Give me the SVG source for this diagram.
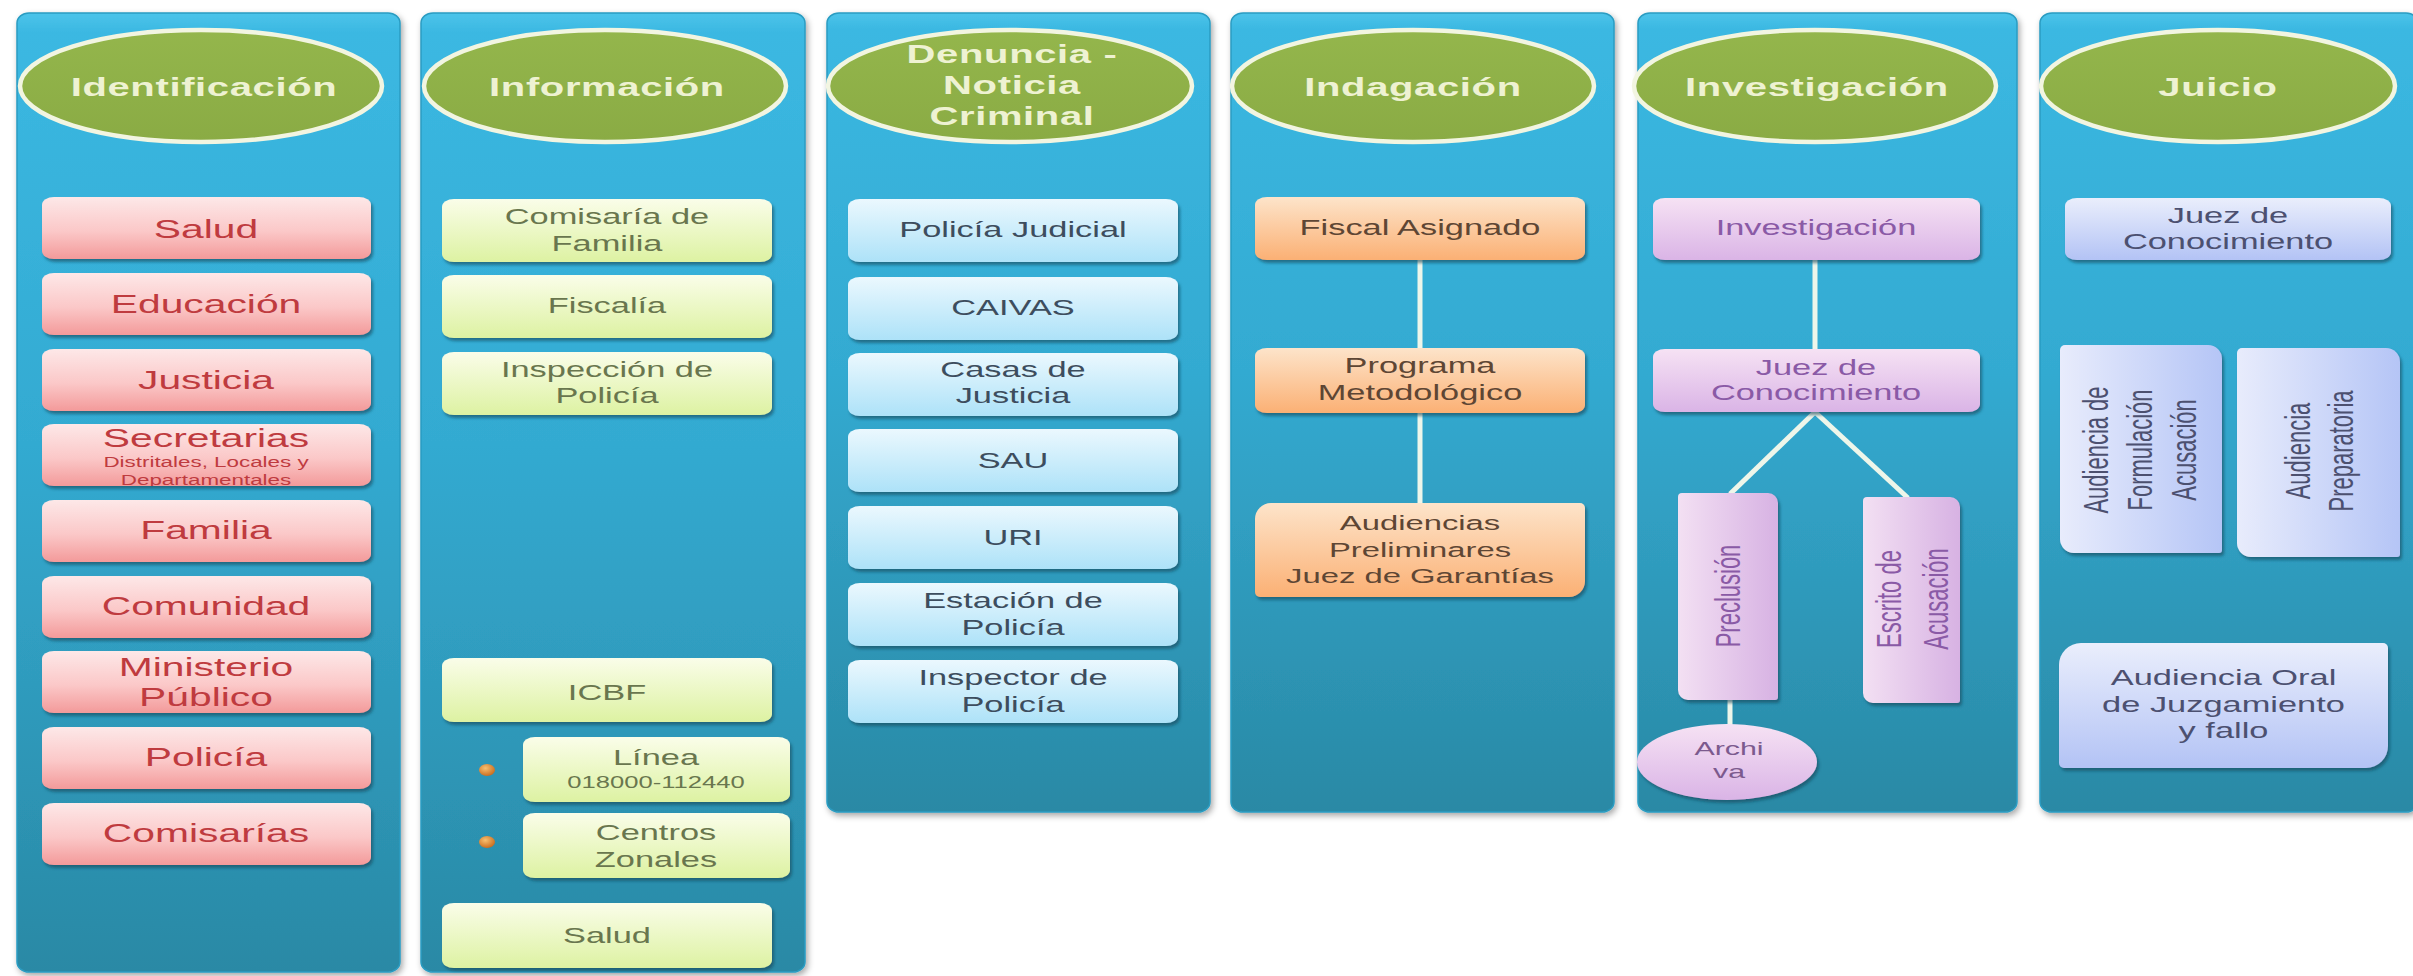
<svg xmlns="http://www.w3.org/2000/svg" width="2413" height="976" viewBox="0 0 2413 976">
<defs>
<linearGradient id="gCol" x1="0" y1="0" x2="0" y2="1">
<stop offset="0" stop-color="#4cc4ea"/><stop offset="0.02" stop-color="#3bb8e2"/><stop offset="0.45" stop-color="#33aad1"/><stop offset="1" stop-color="#2a89a5"/>
</linearGradient>
<linearGradient id="gHdr" x1="0" y1="0" x2="0" y2="1">
<stop offset="0" stop-color="#94b64c"/><stop offset="1" stop-color="#8aab44"/>
</linearGradient>
<linearGradient id="gPink" x1="0" y1="0" x2="0" y2="1">
<stop offset="0" stop-color="#fde8e8"/><stop offset="0.55" stop-color="#fbc8c8"/><stop offset="1" stop-color="#f39a9a"/>
</linearGradient>
<linearGradient id="gGreen" x1="0" y1="0" x2="0" y2="1">
<stop offset="0" stop-color="#fafde9"/><stop offset="1" stop-color="#ddf2a2"/>
</linearGradient>
<linearGradient id="gBlue" x1="0" y1="0" x2="0" y2="1">
<stop offset="0" stop-color="#ebf8fe"/><stop offset="1" stop-color="#ade2f8"/>
</linearGradient>
<linearGradient id="gOrange" x1="0" y1="0" x2="0" y2="1">
<stop offset="0" stop-color="#fde4ca"/><stop offset="1" stop-color="#fbb074"/>
</linearGradient>
<linearGradient id="gPurple" x1="0" y1="0" x2="0" y2="1">
<stop offset="0" stop-color="#f6e2f4"/><stop offset="1" stop-color="#dab4e6"/>
</linearGradient>
<linearGradient id="gPurpleH" x1="0" y1="0" x2="1" y2="0">
<stop offset="0" stop-color="#f3e0f3"/><stop offset="1" stop-color="#d7b2e3"/>
</linearGradient>
<linearGradient id="gLav" x1="0" y1="0" x2="0" y2="1">
<stop offset="0" stop-color="#eaeefc"/><stop offset="1" stop-color="#b3c3f5"/>
</linearGradient>
<linearGradient id="gLavH" x1="0" y1="0" x2="1" y2="0">
<stop offset="0" stop-color="#e8ecfc"/><stop offset="1" stop-color="#b5c5f6"/>
</linearGradient>
<radialGradient id="gDot" cx="0.4" cy="0.35" r="0.7">
<stop offset="0" stop-color="#f7c070"/><stop offset="1" stop-color="#c8681a"/>
</radialGradient>
<filter id="shCol" x="-5%" y="-5%" width="112%" height="110%">
<feDropShadow dx="2" dy="3" stdDeviation="3" flood-color="#000" flood-opacity="0.35"/>
</filter>
<filter id="shBox" x="-5%" y="-10%" width="112%" height="130%">
<feDropShadow dx="2" dy="3" stdDeviation="1.8" flood-color="#0a4558" flood-opacity="0.6"/>
</filter>
<clipPath id="clipSec"><rect x="42" y="424" width="329" height="62"/></clipPath>
<style>
.col{fill:url(#gCol);stroke:#2a9cc2;stroke-width:1.5;filter:url(#shCol)}
.hdr{fill:url(#gHdr);stroke:#f2f5e1;stroke-width:4.5}
.t{font-family:"Liberation Sans",Arial,sans-serif;text-anchor:middle}
.ht{font-size:25px;font-weight:bold;fill:#eef2d2;letter-spacing:0.4px}
.b{filter:url(#shBox)}
.pk{fill:url(#gPink)}
.gr{fill:url(#gGreen)}
.bl{fill:url(#gBlue)}
.or{fill:url(#gOrange)}
.pu{fill:url(#gPurple)}
.puh{fill:url(#gPurpleH)}
.lv{fill:url(#gLav)}
.lvh{fill:url(#gLavH)}
.t1{font-size:25.5px;fill:#bf3b3f}
.t2{font-size:21.5px;fill:#69764e}
.t3{font-size:21.5px;fill:#3d4d5e}
.t4{font-size:21.5px;fill:#5e4634}
.t5{font-size:21.5px;fill:#8a5aa6}
.t6{font-size:21.5px;fill:#4c5070}
.dot{fill:url(#gDot)}
.conn{stroke:#eef6ea;stroke-width:5;fill:none;stroke-linecap:butt}
</style>
</defs>
<rect x="0" y="0" width="2413" height="976" fill="#ffffff"/>

<!-- Columns with headers -->
<g id="col-identificacion">
<rect class="col" x="17" y="13" width="383" height="959" rx="12" ry="10"/>
<ellipse class="hdr" cx="201" cy="86" rx="181" ry="56"/>
<text class="t ht" transform="translate(204 0) scale(1.6 1)" x="0" y="96">Identificación</text>
</g>
<g id="col-informacion">
<rect class="col" x="421" y="13" width="384" height="959" rx="12" ry="10"/>
<ellipse class="hdr" cx="605" cy="86" rx="181" ry="56"/>
<text class="t ht" transform="translate(607 0) scale(1.6 1)" x="0" y="96">Información</text>
</g>
<g id="col-denuncia">
<rect class="col" x="827" y="13" width="383" height="799" rx="12" ry="10"/>
<ellipse class="hdr" cx="1010" cy="86" rx="182" ry="56"/>
<text class="t ht" transform="translate(1012 0) scale(1.6 1)"><tspan x="0" y="63">Denuncia -</tspan><tspan x="0" y="94">Noticia</tspan><tspan x="0" y="125">Criminal</tspan></text>
</g>
<g id="col-indagacion">
<rect class="col" x="1231" y="13" width="383" height="799" rx="12" ry="10"/>
<ellipse class="hdr" cx="1413" cy="86" rx="181" ry="56"/>
<text class="t ht" transform="translate(1413 0) scale(1.6 1)" x="0" y="96">Indagación</text>
</g>
<g id="col-investigacion">
<rect class="col" x="1638" y="13" width="379" height="799" rx="12" ry="10"/>
<ellipse class="hdr" cx="1815" cy="86" rx="181" ry="56"/>
<text class="t ht" transform="translate(1817 0) scale(1.6 1)" x="0" y="96">Investigación</text>
</g>
<g id="col-juicio">
<rect class="col" x="2040" y="13" width="378" height="799" rx="12" ry="10"/>
<ellipse class="hdr" cx="2218" cy="86" rx="177" ry="56"/>
<text class="t ht" transform="translate(2218 0) scale(1.6 1)" x="0" y="96">Juicio</text>
</g>

<!-- Connectors -->
<g id="connectors">
<line class="conn" x1="1420" y1="260" x2="1420" y2="348"/>
<line class="conn" x1="1420" y1="413" x2="1420" y2="503"/>
<line class="conn" x1="1815" y1="260" x2="1815" y2="349"/>
<line class="conn" x1="1815" y1="412" x2="1730" y2="494"/>
<line class="conn" x1="1815" y1="412" x2="1908" y2="498"/>
<line class="conn" x1="1730" y1="700" x2="1730" y2="726"/>
</g>

<!-- Column 1: Identificación -->
<g id="n-salud-1"><rect class="b pk" x="42" y="197" width="329" height="62" rx="12" ry="8"/>
<text class="t t1" transform="translate(206 0) scale(1.6 1)" x="0" y="238">Salud</text></g>
<g id="n-educacion"><rect class="b pk" x="42" y="273" width="329" height="62" rx="12" ry="8"/>
<text class="t t1" transform="translate(206 0) scale(1.6 1)" x="0" y="313">Educación</text></g>
<g id="n-justicia"><rect class="b pk" x="42" y="349" width="329" height="62" rx="12" ry="8"/>
<text class="t t1" transform="translate(206 0) scale(1.6 1)" x="0" y="389">Justicia</text></g>
<g id="n-secretarias"><rect class="b pk" x="42" y="424" width="329" height="62" rx="12" ry="8"/>
<g clip-path="url(#clipSec)">
<text class="t t1" transform="translate(206 0) scale(1.6 1)" x="0" y="447">Secretarias</text>
<text class="t t1" style="font-size:14px" transform="translate(206 0) scale(1.6 1)"><tspan x="0" y="467">Distritales, Locales y</tspan><tspan x="0" y="485">Departamentales</tspan></text>
</g></g>
<g id="n-familia"><rect class="b pk" x="42" y="500" width="329" height="62" rx="12" ry="8"/>
<text class="t t1" transform="translate(206 0) scale(1.6 1)" x="0" y="539">Familia</text></g>
<g id="n-comunidad"><rect class="b pk" x="42" y="576" width="329" height="62" rx="12" ry="8"/>
<text class="t t1" transform="translate(206 0) scale(1.6 1)" x="0" y="615">Comunidad</text></g>
<g id="n-ministerio"><rect class="b pk" x="42" y="651" width="329" height="62" rx="12" ry="8"/>
<text class="t t1" transform="translate(206 0) scale(1.6 1)"><tspan x="0" y="676">Ministerio</tspan><tspan x="0" y="706">Público</tspan></text></g>
<g id="n-policia-1"><rect class="b pk" x="42" y="727" width="329" height="62" rx="12" ry="8"/>
<text class="t t1" transform="translate(206 0) scale(1.6 1)" x="0" y="766">Policía</text></g>
<g id="n-comisarias"><rect class="b pk" x="42" y="803" width="329" height="62" rx="12" ry="8"/>
<text class="t t1" transform="translate(206 0) scale(1.6 1)" x="0" y="842">Comisarías</text></g>

<!-- Column 2: Información -->
<g id="n-comisaria-familia"><rect class="b gr" x="442" y="199" width="330" height="63" rx="12" ry="8"/>
<text class="t t2" transform="translate(607 0) scale(1.6 1)"><tspan x="0" y="224">Comisaría de</tspan><tspan x="0" y="251">Familia</tspan></text></g>
<g id="n-fiscalia"><rect class="b gr" x="442" y="275" width="330" height="63" rx="12" ry="8"/>
<text class="t t2" transform="translate(607 0) scale(1.6 1)" x="0" y="313">Fiscalía</text></g>
<g id="n-inspeccion"><rect class="b gr" x="442" y="352" width="330" height="63" rx="12" ry="8"/>
<text class="t t2" transform="translate(607 0) scale(1.6 1)"><tspan x="0" y="377">Inspección de</tspan><tspan x="0" y="403">Policía</tspan></text></g>
<g id="n-icbf"><rect class="b gr" x="442" y="658" width="330" height="64" rx="12" ry="8"/>
<text class="t t2" transform="translate(607 0) scale(1.6 1)" x="0" y="700">ICBF</text></g>
<g id="n-linea"><ellipse class="dot" cx="487" cy="770" rx="8" ry="6"/>
<rect class="b gr" x="523" y="737" width="267" height="65" rx="12" ry="8"/>
<text class="t t2" transform="translate(656 0) scale(1.6 1)"><tspan x="0" y="765">Línea</tspan><tspan x="0" y="788" style="font-size:16px">018000-112440</tspan></text></g>
<g id="n-centros"><ellipse class="dot" cx="487" cy="842" rx="8" ry="6"/>
<rect class="b gr" x="523" y="813" width="267" height="65" rx="12" ry="8"/>
<text class="t t2" transform="translate(656 0) scale(1.6 1)"><tspan x="0" y="840">Centros</tspan><tspan x="0" y="867">Zonales</tspan></text></g>
<g id="n-salud-2"><rect class="b gr" x="442" y="903" width="330" height="65" rx="12" ry="8"/>
<text class="t t2" transform="translate(607 0) scale(1.6 1)" x="0" y="943">Salud</text></g>

<!-- Column 3: Denuncia -->
<g id="n-policia-judicial"><rect class="b bl" x="848" y="199" width="330" height="63" rx="12" ry="8"/>
<text class="t t3" transform="translate(1013 0) scale(1.6 1)" x="0" y="237">Policía Judicial</text></g>
<g id="n-caivas"><rect class="b bl" x="848" y="277" width="330" height="63" rx="12" ry="8"/>
<text class="t t3" transform="translate(1013 0) scale(1.6 1)" x="0" y="315">CAIVAS</text></g>
<g id="n-casas-justicia"><rect class="b bl" x="848" y="353" width="330" height="63" rx="12" ry="8"/>
<text class="t t3" transform="translate(1013 0) scale(1.6 1)"><tspan x="0" y="377">Casas de</tspan><tspan x="0" y="403">Justicia</tspan></text></g>
<g id="n-sau"><rect class="b bl" x="848" y="429" width="330" height="63" rx="12" ry="8"/>
<text class="t t3" transform="translate(1013 0) scale(1.6 1)" x="0" y="468">SAU</text></g>
<g id="n-uri"><rect class="b bl" x="848" y="506" width="330" height="63" rx="12" ry="8"/>
<text class="t t3" transform="translate(1013 0) scale(1.6 1)" x="0" y="545">URI</text></g>
<g id="n-estacion"><rect class="b bl" x="848" y="583" width="330" height="63" rx="12" ry="8"/>
<text class="t t3" transform="translate(1013 0) scale(1.6 1)"><tspan x="0" y="608">Estación de</tspan><tspan x="0" y="635">Policía</tspan></text></g>
<g id="n-inspector"><rect class="b bl" x="848" y="660" width="330" height="63" rx="12" ry="8"/>
<text class="t t3" transform="translate(1013 0) scale(1.6 1)"><tspan x="0" y="685">Inspector de</tspan><tspan x="0" y="712">Policía</tspan></text></g>

<!-- Column 4: Indagación -->
<g id="n-fiscal"><rect class="b or" x="1255" y="197" width="330" height="63" rx="12" ry="8"/>
<text class="t t4" transform="translate(1420 0) scale(1.6 1)" x="0" y="235">Fiscal Asignado</text></g>
<g id="n-programa"><rect class="b or" x="1255" y="348" width="330" height="65" rx="12" ry="8"/>
<text class="t t4" transform="translate(1420 0) scale(1.6 1)"><tspan x="0" y="373">Programa</tspan><tspan x="0" y="400">Metodológico</tspan></text></g>
<g id="n-audiencias-preliminares"><path class="b or" d="M1271,503 H1580 A5,5 0 0 1 1585,508 V581 A16,16 0 0 1 1569,597 H1260 A5,5 0 0 1 1255,592 V519 A16,16 0 0 1 1271,503 Z"/>
<text class="t t4" style="font-size:20.5px" transform="translate(1420 0) scale(1.6 1)"><tspan x="0" y="530">Audiencias</tspan><tspan x="0" y="557">Preliminares</tspan><tspan x="0" y="583">Juez de Garantías</tspan></text></g>

<!-- Column 5: Investigación -->
<g id="n-investigacion"><rect class="b pu" x="1653" y="198" width="327" height="62" rx="12" ry="8"/>
<text class="t t5" transform="translate(1816 0) scale(1.6 1)" x="0" y="235">Investigación</text></g>
<g id="n-juez-conocimiento-1"><rect class="b pu" x="1653" y="349" width="327" height="63" rx="12" ry="8"/>
<text class="t t5" transform="translate(1816 0) scale(1.6 1)"><tspan x="0" y="375">Juez de</tspan><tspan x="0" y="400">Conocimiento</tspan></text></g>
<g id="n-preclusion"><path class="b puh" d="M1682,493 H1768 A10,10 0 0 1 1778,503 V697 A3,3 0 0 1 1775,700 H1688 A10,10 0 0 1 1678,690 V497 A4,4 0 0 1 1682,493 Z"/>
<text class="t t5" style="font-size:22px" transform="translate(1727 596) scale(1.6 1) rotate(-90)" x="0" y="8">Preclusión</text></g>
<g id="n-escrito"><path class="b puh" d="M1867,497 H1950 A10,10 0 0 1 1960,507 V700 A3,3 0 0 1 1957,703 H1873 A10,10 0 0 1 1863,693 V501 A4,4 0 0 1 1867,497 Z"/>
<text class="t t5" style="font-size:22px" transform="translate(1911.5 599) scale(1.6 1) rotate(-90)"><tspan x="0" y="-6.8">Escrito de</tspan><tspan x="0" y="22.6">Acusación</tspan></text></g>
<g id="n-archiva"><ellipse class="b pu" cx="1727" cy="762" rx="90" ry="38"/>
<text class="t t5" style="font-size:19px;fill:#7c5a8e" transform="translate(1729 0) scale(1.6 1)"><tspan x="0" y="755">Archi</tspan><tspan x="0" y="778">va</tspan></text></g>

<!-- Column 6: Juicio -->
<g id="n-juez-conocimiento-2"><rect class="b lv" x="2065" y="198" width="326" height="62" rx="12" ry="8"/>
<text class="t t6" transform="translate(2228 0) scale(1.6 1)"><tspan x="0" y="223">Juez de</tspan><tspan x="0" y="249">Conocimiento</tspan></text></g>
<g id="n-formulacion"><path class="b lvh" d="M2065,345 H2208 A14,14 0 0 1 2222,359 V550 A3,3 0 0 1 2219,553 H2074 A14,14 0 0 1 2060,539 V350 A5,5 0 0 1 2065,345 Z"/>
<text class="t t6" style="font-size:22px" transform="translate(2139.5 450) scale(1.6 1) rotate(-90)"><tspan x="0" y="-19.6">Audiencia de</tspan><tspan x="0" y="7.9">Formulación</tspan><tspan x="0" y="35.4">Acusación</tspan></text></g>
<g id="n-preparatoria"><path class="b lvh" d="M2242,348 H2386 A14,14 0 0 1 2400,362 V554 A3,3 0 0 1 2397,557 H2251 A14,14 0 0 1 2237,543 V353 A5,5 0 0 1 2242,348 Z"/>
<text class="t t6" style="font-size:22px" transform="translate(2318.5 451) scale(1.6 1) rotate(-90)"><tspan x="0" y="-5.5">Audiencia</tspan><tspan x="0" y="21.3">Preparatoria</tspan></text></g>
<g id="n-audiencia-oral"><path class="b lv" d="M2081,643 H2383 A5,5 0 0 1 2388,648 V746 A22,22 0 0 1 2366,768 H2064 A5,5 0 0 1 2059,763 V665 A22,22 0 0 1 2081,643 Z"/>
<text class="t t6" transform="translate(2223.5 0) scale(1.6 1)"><tspan x="0" y="685">Audiencia Oral</tspan><tspan x="0" y="712">de Juzgamiento</tspan><tspan x="0" y="738">y fallo</tspan></text></g>
</svg>
